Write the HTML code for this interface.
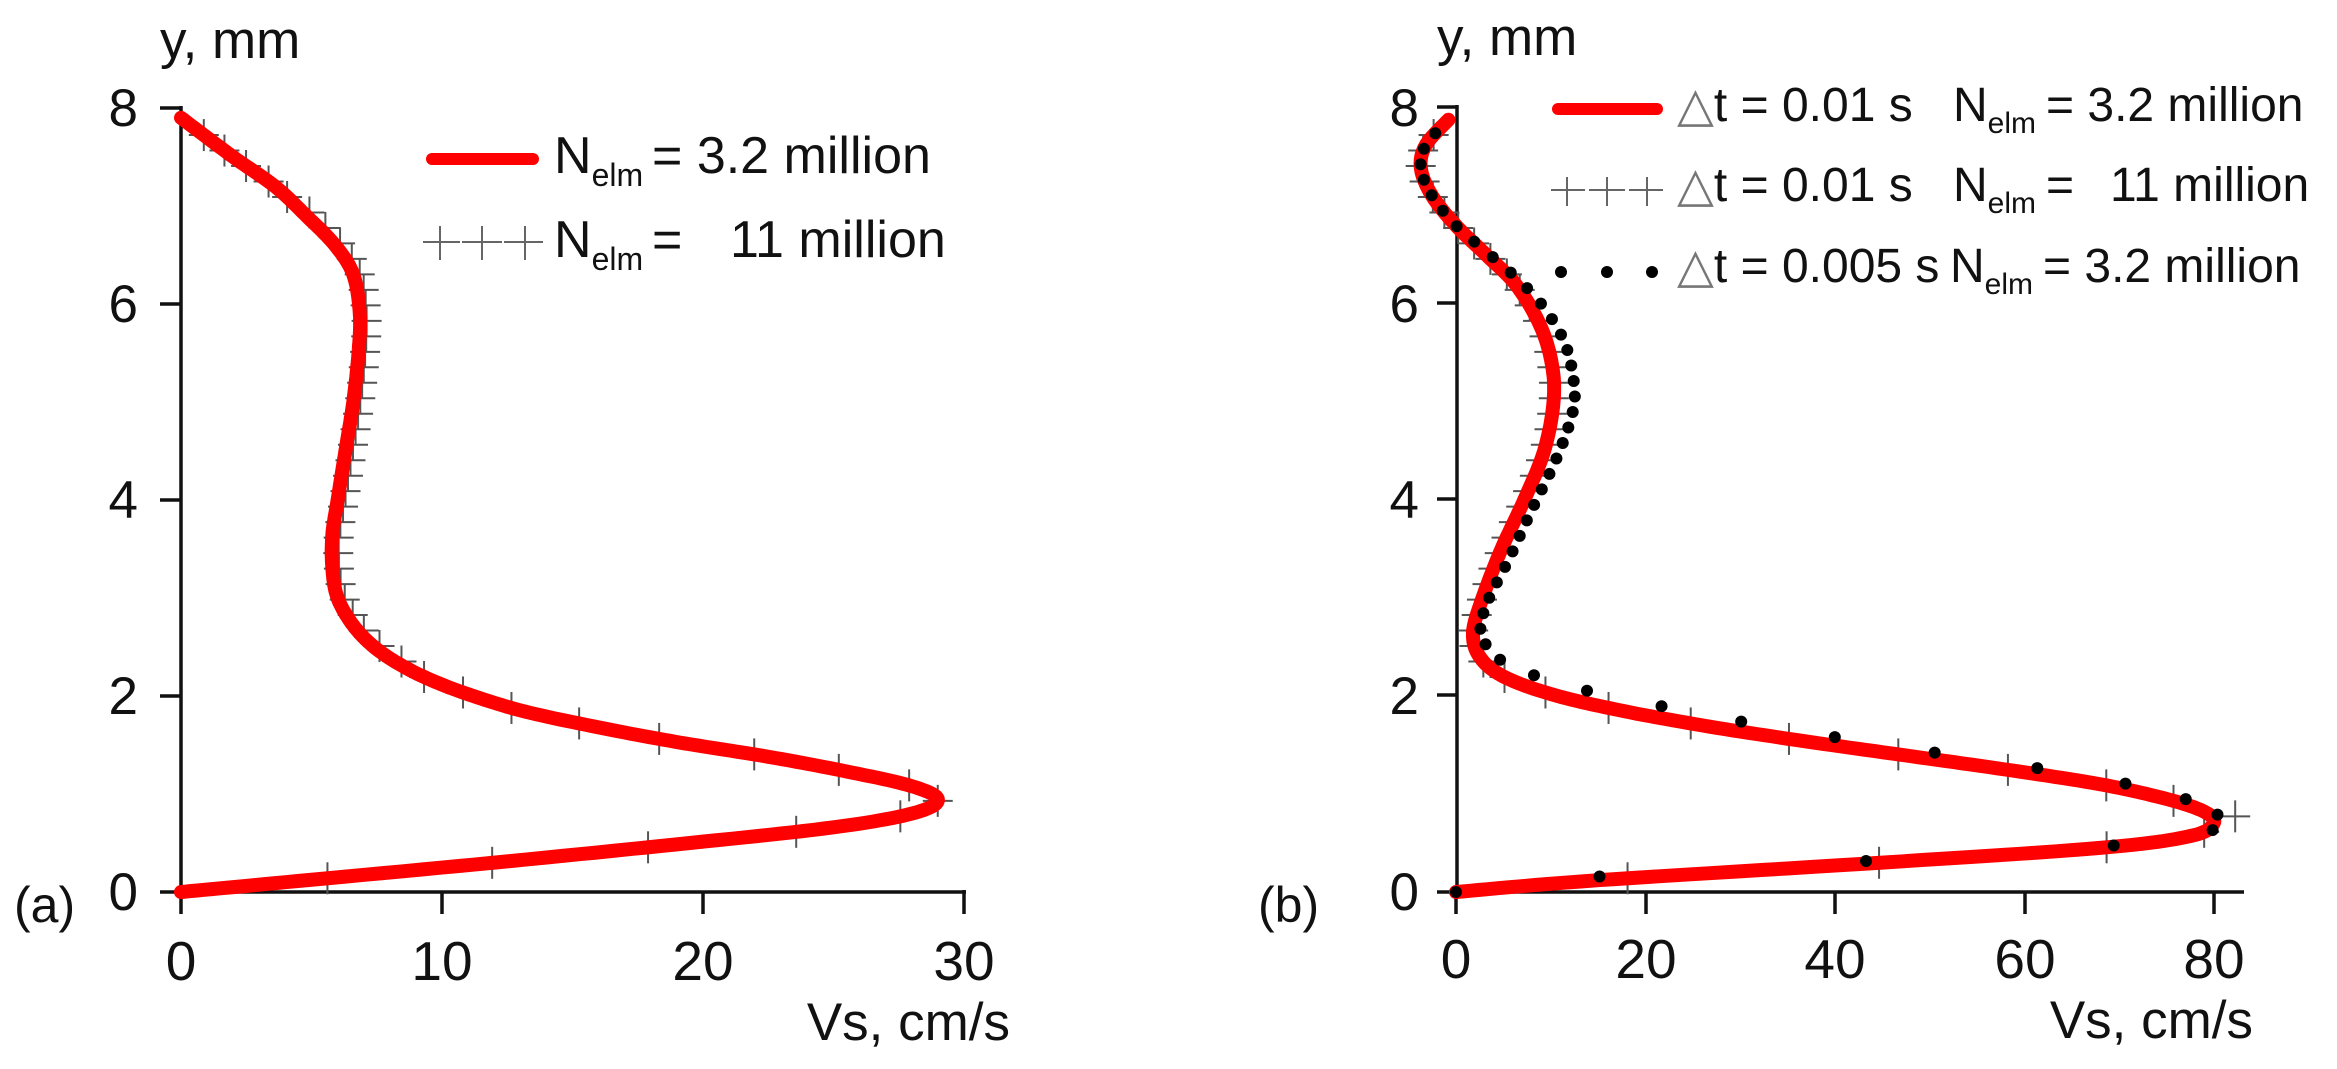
<!DOCTYPE html>
<html><head><meta charset="utf-8">
<style>
html,body{margin:0;padding:0;background:#fff;}
svg{display:block;}
text{font-family:"Liberation Sans",Arial,sans-serif;fill:#111;}
</style></head>
<body>
<svg id="s" width="2337" height="1069" viewBox="0 0 2337 1069" xmlns="http://www.w3.org/2000/svg">
<g id="ax" stroke="#111" stroke-width="3.5" fill="none">
  <line x1="181" y1="106" x2="181" y2="893"/>
  <line x1="160" y1="892" x2="966" y2="892"/>
  <line x1="160" y1="108" x2="181" y2="108"/>
  <line x1="160" y1="304" x2="181" y2="304"/>
  <line x1="160" y1="500" x2="181" y2="500"/>
  <line x1="160" y1="696" x2="181" y2="696"/>
  <line x1="181" y1="892" x2="181" y2="914"/>
  <line x1="442" y1="892" x2="442" y2="914"/>
  <line x1="703" y1="892" x2="703" y2="914"/>
  <line x1="964" y1="890" x2="964" y2="914"/>
  <line x1="1457" y1="105" x2="1457" y2="893"/>
  <line x1="1437" y1="892" x2="2244" y2="892"/>
  <line x1="1437" y1="107" x2="1457" y2="107"/>
  <line x1="1437" y1="303" x2="1457" y2="303"/>
  <line x1="1437" y1="499" x2="1457" y2="499"/>
  <line x1="1437" y1="695" x2="1457" y2="695"/>
  <line x1="1456" y1="892" x2="1456" y2="914"/>
  <line x1="1646" y1="892" x2="1646" y2="914"/>
  <line x1="1835" y1="892" x2="1835" y2="914"/>
  <line x1="2025" y1="892" x2="2025" y2="914"/>
  <line x1="2214" y1="892" x2="2214" y2="914"/>
</g>
<g id="plots"></g>
<g font-size="53" text-anchor="end">
  <text x="138" y="126">8</text>
  <text x="138" y="322">6</text>
  <text x="138" y="518">4</text>
  <text x="138" y="714">2</text>
  <text x="138" y="910">0</text>
  <text x="1419" y="126">8</text>
  <text x="1419" y="322">6</text>
  <text x="1419" y="518">4</text>
  <text x="1419" y="714">2</text>
  <text x="1419" y="910">0</text>
</g>
<g font-size="55" text-anchor="middle">
  <text x="181" y="980">0</text>
  <text x="442" y="980">10</text>
  <text x="703" y="980">20</text>
  <text x="964" y="980">30</text>
  <text x="1456" y="978">0</text>
  <text x="1646" y="978">20</text>
  <text x="1835" y="978">40</text>
  <text x="2025" y="978">60</text>
  <text x="2214" y="978">80</text>
</g>
<text x="1010" y="1040" font-size="53" text-anchor="end">Vs, cm/s</text>
<text x="2253" y="1038" font-size="53" text-anchor="end">Vs, cm/s</text>
<text x="160" y="58" font-size="53">y, mm</text>
<text x="1437" y="55" font-size="53">y, mm</text>
<text x="14" y="922" font-size="50">(a)</text>
<text x="1258" y="922" font-size="50">(b)</text>
<!-- left legend -->
<line x1="432" y1="159" x2="533" y2="159" stroke="#ff0000" stroke-width="12" stroke-linecap="round"/>
<g stroke="#666" stroke-width="2">
  <line x1="423" y1="242" x2="460" y2="242"/><line x1="440" y1="226" x2="440" y2="260"/>
  <line x1="462" y1="242" x2="502" y2="242"/><line x1="482" y1="226" x2="482" y2="260"/>
  <line x1="504" y1="242" x2="543" y2="242"/><line x1="525" y1="226" x2="525" y2="260"/>
</g>
<text x="554" y="173" font-size="52">N<tspan font-size="32" dy="13">elm</tspan><tspan dy="-13" x="652">= 3.2 million</tspan></text>
<text x="554" y="257" font-size="52">N<tspan font-size="32" dy="13">elm</tspan><tspan dy="-13" x="652">=</tspan><tspan x="730">11 million</tspan></text>
<!-- right legend -->
<line x1="1558" y1="109" x2="1657" y2="109" stroke="#ff0000" stroke-width="12" stroke-linecap="round"/>
<g stroke="#666" stroke-width="2">
  <line x1="1551" y1="190" x2="1585" y2="190"/><line x1="1567" y1="177" x2="1567" y2="206"/>
  <line x1="1589" y1="190" x2="1625" y2="190"/><line x1="1607" y1="177" x2="1607" y2="206"/>
  <line x1="1629" y1="190" x2="1663" y2="190"/><line x1="1647" y1="177" x2="1647" y2="206"/>
</g>
<circle cx="1561" cy="272" r="6" fill="#000"/><circle cx="1607" cy="272" r="6" fill="#000"/><circle cx="1652" cy="272" r="6" fill="#000"/>
<g font-size="48">
  <text x="1677" y="121"><tspan fill="#777">△</tspan>t = 0.01 s<tspan x="1953">N</tspan><tspan font-size="30" dy="12">elm</tspan><tspan dy="-12" x="2046">= 3.2 million</tspan></text>
  <text x="1677" y="201"><tspan fill="#777">△</tspan>t = 0.01 s<tspan x="1953">N</tspan><tspan font-size="30" dy="12">elm</tspan><tspan dy="-12" x="2046">=</tspan><tspan x="2110">11 million</tspan></text>
  <text x="1677" y="282"><tspan fill="#777">△</tspan>t = 0.005 s<tspan x="1950">N</tspan><tspan font-size="30" dy="12">elm</tspan><tspan dy="-12" x="2043">= 3.2 million</tspan></text>
</g>
</svg>
<script>
(function(){
var NS="http://www.w3.org/2000/svg";
var G=document.getElementById("plots");
function cr(pts,n){
  var out=[];
  for(var i=0;i<pts.length-1;i++){
    var p0=pts[Math.max(0,i-1)],p1=pts[i],p2=pts[i+1],p3=pts[Math.min(pts.length-1,i+2)];
    for(var k=0;k<n;k++){var t=k/n,t2=t*t,t3=t2*t;
      var f=function(a,b,c,d){return 0.5*((2*b)+(-a+c)*t+(2*a-5*b+4*c-d)*t2+(-a+3*b-3*c+d)*t3);};
      out.push([f(p0[0],p1[0],p2[0],p3[0]),f(p0[1],p1[1],p2[1],p3[1])]);}
  }
  out.push(pts[pts.length-1]);return out;
}
function atY(d,y){for(var i=0;i<d.length-1;i++){if((d[i][1]-y)*(d[i+1][1]-y)<=0){var t=(y-d[i][1])/((d[i+1][1]-d[i][1])||1);return d[i][0]+t*(d[i+1][0]-d[i][0]);}}return null;}
function el(n,a){var e=document.createElementNS(NS,n);for(var k in a)e.setAttribute(k,a[k]);G.appendChild(e);return e;}
function panel(o){
  var X=function(v){return o.x0+v*o.sx;},Y=function(y){return 892-y*98;};
  var d=cr(o.red,12);
  var s="";d.forEach(function(p,i){s+=(i?"L":"M")+X(p[0]).toFixed(1)+" "+Y(p[1]).toFixed(1);});
  for(var y=o.cy0;y<=o.cy1;y+=o.cstep){var v=atY(d,y);if(v===null)continue;var cx=X(v+(o.coff?o.coff(y):0)),cy=Y(y);
    el("line",{x1:cx-15,y1:cy,x2:cx+15,y2:cy,stroke:"#555","stroke-width":2});
    el("line",{x1:cx,y1:cy-16,x2:cx,y2:cy+16,stroke:"#555","stroke-width":2});}
  el("path",{d:s,fill:"none",stroke:"#ff0000","stroke-width":14,"stroke-linejoin":"round","stroke-linecap":"round"});
  if(o.dots){var dd=cr(o.dots,12);
    for(var y=0;y<=7.9;y+=0.158){var v=atY(dd,y);if(v===null)continue;el("circle",{cx:X(v),cy:Y(y),r:6,fill:"#000"});}}
}
panel({x0:181,sx:26.1,
 red:[[0,0],[4,0.1],[12,0.3],[19.5,0.5],[25,0.66],[28,0.8],[29,0.94],[28,1.08],[25.5,1.23],[22.5,1.38],[19,1.53],[16,1.68],[13.2,1.84],[11.2,2.0],[9.6,2.16],[8.4,2.32],[7.4,2.5],[6.6,2.72],[6.0,3.0],[5.8,3.3],[5.8,3.65],[6.0,4.0],[6.3,4.5],[6.6,5.0],[6.8,5.5],[6.85,5.9],[6.6,6.3],[5.9,6.6],[4.8,6.9],[3.6,7.2],[2.0,7.5],[0,7.9]],
 cy0:0.14,cy1:7.8,cstep:0.158,coff:function(y){return (y>2.2&&y<7)?0.25:0;}});
panel({x0:1456,sx:9.47,
 red:[[0,0],[15,0.12],[45,0.3],[68,0.45],[77.5,0.57],[80,0.7],[79,0.82],[75,0.95],[68,1.1],[58,1.25],[47,1.4],[36,1.55],[26,1.7],[17,1.86],[10,2.02],[5,2.2],[2.5,2.4],[1.8,2.65],[2.8,3.0],[4.8,3.5],[7.2,4.0],[9.3,4.5],[10.3,5.0],[10.1,5.4],[8.8,5.8],[6.3,6.2],[3.2,6.5],[0,6.8],[-2.5,7.1],[-3.7,7.38],[-3.2,7.62],[-0.8,7.88]],
 cy0:0.14,cy1:7.75,cstep:0.158,coff:function(y){return (y>0.7&&y<0.85)?2.5:0;},
 dots:[[0,0],[14,0.15],[44,0.32],[69,0.47],[79.5,0.62],[80.5,0.78],[77,0.95],[71,1.1],[61,1.27],[50,1.43],[40,1.58],[30,1.74],[21.5,1.9],[14,2.05],[8,2.22],[4.5,2.38],[3,2.55],[2.6,2.72],[3.5,3.0],[5.6,3.4],[8,3.9],[10.5,4.4],[12.2,4.85],[12.5,5.15],[11.5,5.6],[9,6.0],[6,6.3],[3,6.55],[0,6.8],[-2.5,7.1],[-3.7,7.38],[-3.2,7.62],[-0.8,7.88]]});
})();
</script>
</body></html>
